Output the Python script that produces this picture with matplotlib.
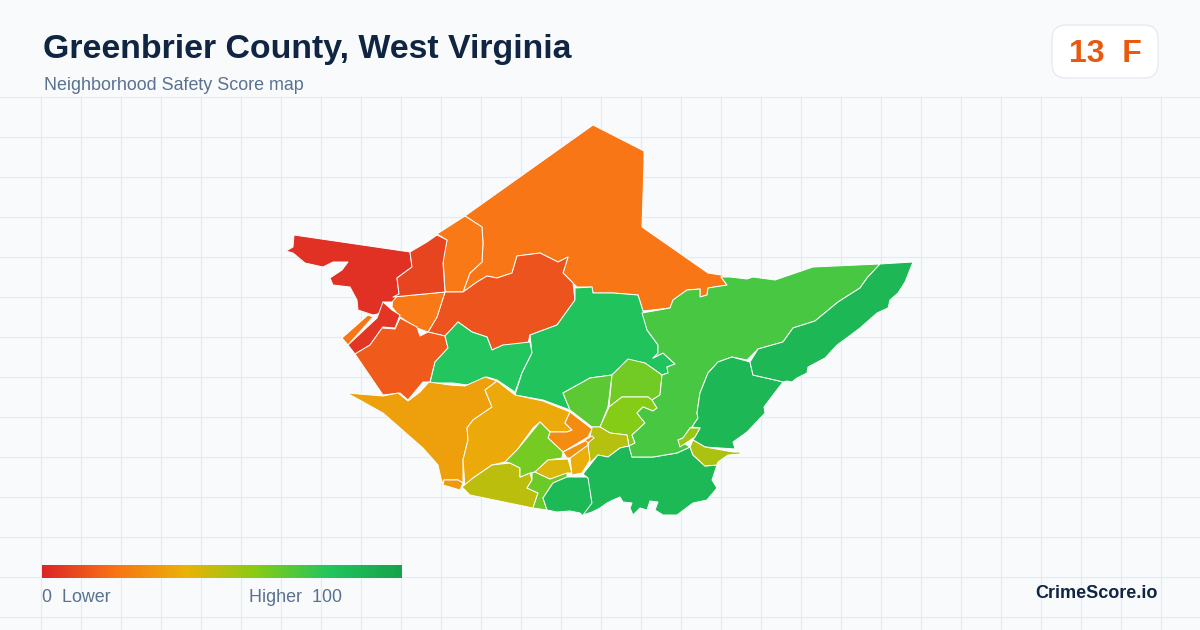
#!/usr/bin/env python
"""
Neighborhood safety score map of Greenbrier County, West Virginia
"""

import numpy as np
import matplotlib
matplotlib.use("Agg")
import matplotlib.pyplot as plt
from matplotlib.colors import LinearSegmentedColormap
from matplotlib.patches import FancyBboxPatch


# Texts of the card
TITLE = "Greenbrier County, West Virginia"
SUBTITLE = "Neighborhood Safety Score map"
COUNTY_SCORE = 13
COUNTY_GRADE = "F"
BRAND = "CrimeScore.io"

# Colour scale of the score
SCALE_STOPS = [0.0, 0.2, 0.4, 0.6, 0.8, 1.0]
SCALE_COLOURS = ["#dc2626", "#f97316", "#eab308", "#84cc16", "#22c55e", "#16a34a"]

# Neighborhood scores, drawn in this order
region_names = [
    "north", "north_west", "north_center", "mid_small", "far_west", "west_2",
    "strip_orange", "strip_red", "south_west", "central_small", "central",
    "cluster_a", "cluster_b", "cluster_c", "cluster_d",
    "yellow_a", "yellow_tip", "yellow_b", "orange_2", "olive", "lime", "lime_2",
    "olive_small", "yellow_small", "orange_small", "orange_tiny",
    "south_1", "south_2", "central_east", "east_a", "east_ne",
    "se_small", "se_tiny",
]
region_scores = [
    21, 22, 12, 22, 3, 8,
    21, 4, 14, 80, 81,
    68, 64, 60, 50,
    34, 32, 37, 28, 49, 63, 65,
    43, 38, 29, 27,
    87, 87, 72, 88, 88,
    52, 56,
]

# Neighborhood outlines on the map
north = [(465, 216), (593, 125), (644, 151), (644, 163), (642, 227), (708, 273), (727, 276), (721, 277), (727, 285),
         (708, 288), (707, 295), (700, 297), (700, 289), (687, 290), (673, 300), (670, 308), (643, 311), (638, 295),
         (613, 293), (593, 293), (592, 287), (577, 287), (573, 283), (563, 273), (568, 257), (558, 262), (540, 253),
         (517, 256), (512, 273), (497, 278), (487, 276), (477, 282), (463, 292), (470, 273), (482, 262), (483, 243),
         (482, 227)]
north_west = [(437, 234), (465, 216), (482, 227), (483, 243), (482, 262), (470, 273), (463, 292), (445, 292),
              (443, 257), (447, 240)]
north_center = [(445, 292), (463, 292), (477, 282), (487, 276), (497, 278), (512, 273), (517, 256), (540, 253),
                (558, 262), (568, 257), (563, 273), (573, 283), (575, 300), (557, 325), (530, 335), (528, 343),
                (520, 347), (503, 345), (492, 350), (487, 337), (472, 332), (458, 322), (445, 336), (428, 332),
                (437, 317)]
mid_small = [(393, 297), (445, 292), (437, 317), (428, 332), (417, 328), (400, 317), (392, 307)]
far_west = [(294, 235), (410, 252), (412, 267), (397, 278), (399, 294), (392, 302), (383, 302), (382, 313),
            (373, 315), (358, 310), (357, 300), (350, 287), (333, 285), (330, 278), (342, 270), (348, 262),
            (333, 262), (323, 267), (305, 263), (293, 253), (286, 251), (293, 247)]
west_2 = [(410, 252), (427, 242), (437, 235), (447, 240), (443, 263), (445, 292), (393, 297), (399, 294),
          (397, 278), (412, 267)]
strip_orange = [(342, 338), (368, 315), (373, 317), (348, 345)]
strip_red = [(348, 345), (377, 318), (383, 302), (392, 310), (400, 315), (395, 328), (383, 327), (370, 345),
             (355, 354)]
south_west = [(355, 354), (370, 345), (382, 328), (395, 329), (400, 318), (417, 327), (420, 336), (428, 332),
              (445, 336), (448, 348), (435, 362), (430, 382), (423, 382), (408, 400), (400, 393), (383, 395)]
central_small = [(445, 336), (458, 322), (472, 332), (487, 337), (492, 350), (503, 345), (530, 342), (532, 353),
                 (522, 373), (515, 392), (497, 380), (487, 377), (467, 385), (453, 383), (430, 383), (435, 362),
                 (448, 348)]
central = [(530, 335), (557, 325), (575, 300), (575, 288), (592, 287), (593, 293), (613, 293), (638, 295),
           (643, 311), (647, 330), (658, 345), (658, 355), (653, 358), (663, 353), (675, 364), (667, 367),
           (668, 373), (662, 375), (645, 363), (628, 360), (612, 375), (590, 378), (563, 393), (570, 410),
           (543, 400), (515, 395), (522, 373), (532, 353)]
cluster_a = [(563, 393), (590, 378), (612, 375), (608, 407), (600, 427), (592, 427), (570, 410)]
cluster_b = [(612, 375), (628, 359), (645, 363), (662, 375), (660, 395), (652, 400), (648, 397), (622, 397),
             (609, 407)]
cluster_c = [(609, 407), (622, 397), (648, 397), (652, 400), (657, 408), (653, 411), (643, 407), (637, 413),
             (645, 423), (632, 435), (635, 443), (629, 446), (627, 435), (610, 433), (600, 427)]
cluster_d = [(592, 427), (600, 427), (610, 433), (627, 435), (629, 446), (620, 448), (608, 457), (598, 455),
             (590, 463), (588, 447), (590, 437)]
yellow_a = [(347, 393), (383, 396), (398, 393), (408, 401), (420, 392), (429, 382), (450, 385), (465, 386),
            (485, 377), (497, 381), (485, 390), (492, 407), (473, 420), (467, 428), (468, 440), (463, 460),
            (463, 483), (458, 480), (444, 480), (442, 483), (438, 465), (423, 448), (383, 413)]
yellow_tip = [(444, 480), (458, 480), (463, 483), (460, 490), (443, 485)]
yellow_b = [(497, 381), (515, 395), (543, 401), (570, 412), (565, 423), (572, 430), (567, 432), (550, 432),
            (540, 422), (533, 428), (517, 450), (505, 462), (492, 465), (473, 478), (465, 487), (463, 460),
            (468, 440), (467, 428), (473, 420), (492, 407), (485, 390)]
orange_2 = [(570, 412), (592, 429), (588, 437), (563, 452), (548, 438), (550, 432), (567, 432), (572, 430),
            (565, 423)]
olive = [(462, 487), (473, 478), (492, 465), (510, 463), (520, 468), (520, 477), (530, 473), (532, 480),
         (527, 488), (538, 493), (533, 508), (470, 495)]
lime = [(505, 462), (517, 450), (540, 422), (550, 432), (548, 438), (563, 452), (562, 458), (548, 460),
        (535, 472), (530, 473), (520, 477), (520, 468), (510, 463)]
lime_2 = [(532, 473), (535, 472), (550, 479), (567, 472), (567, 477), (553, 483), (543, 498), (547, 510),
          (533, 508), (538, 493), (527, 488), (532, 480)]
olive_small = [(535, 472), (548, 460), (568, 459), (572, 473), (567, 473), (550, 479)]
yellow_small = [(570, 458), (588, 445), (590, 460), (582, 473), (572, 475)]
orange_small = [(563, 452), (587, 440), (588, 445), (570, 458), (567, 458)]
orange_tiny = [(585, 440), (592, 436), (594, 438), (588, 443)]
south_1 = [(543, 498), (553, 483), (567, 477), (588, 477), (590, 485), (592, 505), (583, 516), (580, 513),
           (570, 511), (557, 512), (547, 510)]
south_2 = [(583, 474), (598, 455), (608, 457), (620, 448), (629, 446), (632, 457), (653, 457), (677, 453),
           (690, 447), (693, 455), (705, 466), (717, 465), (712, 480), (717, 488), (707, 500), (693, 503),
           (677, 515), (663, 515), (655, 510), (658, 502), (650, 501), (647, 510), (640, 508), (633, 515),
           (630, 508), (632, 503), (623, 502), (620, 497), (613, 500), (607, 503), (600, 508), (592, 512),
           (583, 515), (592, 503), (588, 478)]
central_east = [(730, 277), (747, 279), (753, 277), (775, 280), (813, 267), (880, 264), (867, 278), (860, 288),
                (838, 302), (815, 321), (793, 328), (783, 342), (758, 349), (747, 360), (732, 357), (718, 362),
                (708, 373), (700, 393), (697, 413), (698, 418), (692, 427), (690, 428), (683, 438), (678, 440),
                (690, 447), (677, 453), (653, 457), (632, 457), (629, 446), (635, 443), (632, 435), (645, 423),
                (637, 413), (643, 407), (653, 411), (657, 408), (652, 400), (660, 395), (662, 375), (668, 373),
                (667, 367), (675, 364), (663, 353), (653, 358), (658, 353), (658, 345), (647, 330), (642, 313),
                (670, 308), (673, 300), (687, 290), (700, 289), (700, 297), (707, 295), (708, 288), (727, 285),
                (721, 277)]
east_a = [(718, 362), (732, 357), (750, 362), (753, 375), (775, 380), (783, 382), (773, 395), (764, 407),
          (765, 413), (747, 432), (733, 442), (735, 449), (705, 447), (693, 440), (700, 428), (692, 427),
          (698, 418), (697, 413), (700, 393), (708, 373)]
east_ne = [(880, 264), (913, 262), (905, 282), (898, 293), (890, 300), (888, 308), (877, 313), (860, 328),
           (848, 337), (837, 345), (825, 358), (808, 367), (807, 373), (797, 378), (792, 382), (787, 381),
           (783, 382), (775, 380), (753, 375), (750, 362), (758, 349), (783, 342), (793, 328), (815, 321),
           (838, 302), (860, 288), (867, 278)]
se_small = [(693, 440), (705, 447), (733, 452), (740, 452), (740, 454), (728, 455), (718, 462), (717, 465),
            (705, 466), (693, 455), (690, 447)]
se_tiny = [(690, 428), (700, 428), (695, 437), (680, 447), (678, 440), (683, 438)]

region_outlines = [
    north, north_west, north_center, mid_small, far_west, west_2,
    strip_orange, strip_red, south_west, central_small, central,
    cluster_a, cluster_b, cluster_c, cluster_d,
    yellow_a, yellow_tip, yellow_b, orange_2, olive, lime, lime_2,
    olive_small, yellow_small, orange_small, orange_tiny,
    south_1, south_2, central_east, east_a, east_ne,
    se_small, se_tiny,
]

plt.rcParams['font.family'] = ['Liberation Sans', 'DejaVu Sans']

score_cmap = LinearSegmentedColormap.from_list("score", list(zip(SCALE_STOPS, SCALE_COLOURS)))

fig = plt.figure(figsize=(12, 6.3), dpi=100, facecolor="#f8fafc")
ax = fig.add_axes([0, 0, 1, 1])
ax.set_xlim(0, 1200)
ax.set_ylim(630, 0)
ax.axis("off")

# Background grid below the header
ax.vlines(np.arange(40, 1200, 40) + 0.5, 96, 630, color="#e2ecf1", linewidth=0.8, zorder=1)
ax.hlines(np.arange(96, 630, 40) + 0.5, 0, 1200, color="#e2ecf1", linewidth=0.8, zorder=1)

# The neighborhoods
for outline, score in zip(region_outlines, region_scores):
    xs, ys = zip(*outline)
    ax.fill(xs, ys, facecolor=score_cmap(score / 100), edgecolor="white", linewidth=0.7,
            joinstyle="round", zorder=2)

# Header
ax.text(43, 49.5, TITLE, fontsize=24.4, fontweight="bold", color="#0f2542", va="center", ha="left", zorder=5)
ax.text(44, 86, SUBTITLE, fontsize=12.9, color="#5a7291", va="center", ha="left", zorder=5)

# Score badge
badge = FancyBboxPatch((1064, 37), 82, 29, boxstyle="round,pad=12,rounding_size=14", mutation_scale=1,
                       facecolor="white", edgecolor="#e2e8f0", linewidth=0.8, zorder=4)
ax.add_patch(badge)
ax.text(1105, 53.5, f"{COUNTY_SCORE}  {COUNTY_GRADE}", fontsize=23, fontweight="bold", color="#ea580c",
        va="center", ha="center", zorder=5)

# Legend
gradient = np.linspace(0, 1, 360).reshape(1, -1)
ax.imshow(gradient, cmap=score_cmap, extent=(42, 402, 578, 565), aspect="auto", zorder=3)
ax.set_xlim(0, 1200)
ax.set_ylim(630, 0)
ax.text(42, 597.5, "0  Lower", fontsize=12.9, color="#5a7291", va="center", ha="left", zorder=5)
ax.text(249, 597.5, "Higher  100", fontsize=12.9, color="#5a7291", va="center", ha="left", zorder=5)
ax.text(1158, 593.5, BRAND, fontsize=13, fontweight="bold", color="#0f2542", va="center", ha="right", zorder=5)

fig.savefig("out.png", dpi=100, facecolor=fig.get_facecolor())
